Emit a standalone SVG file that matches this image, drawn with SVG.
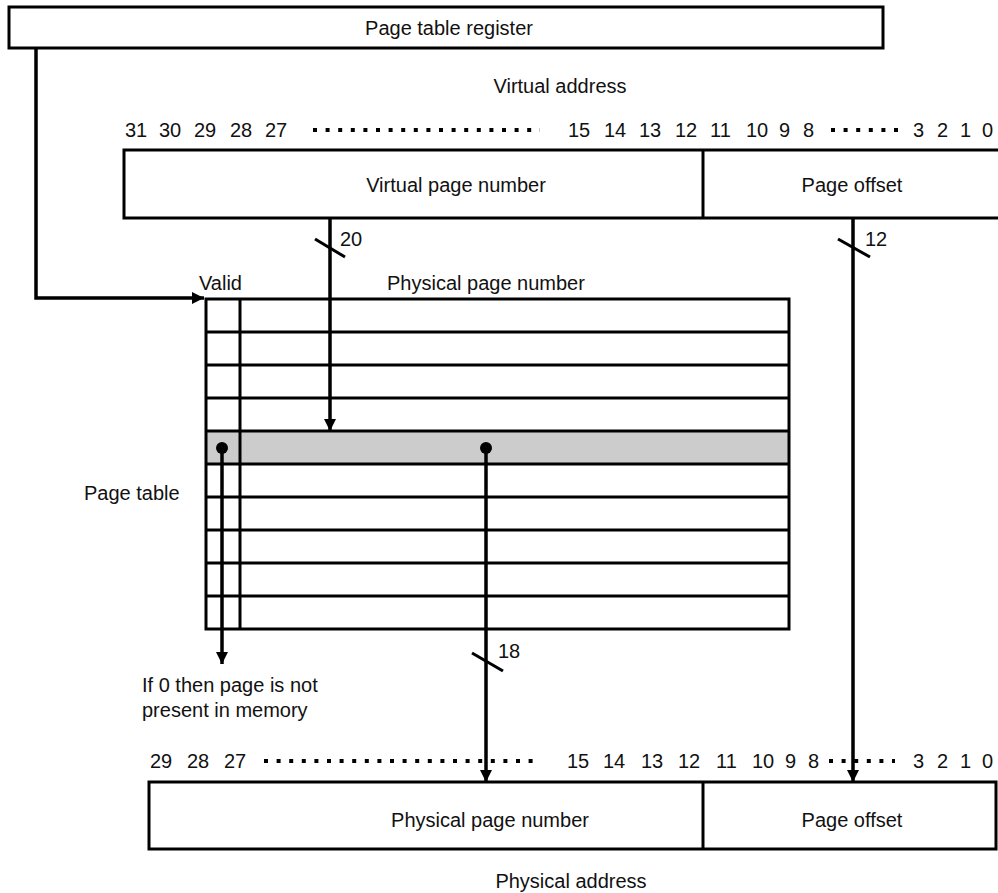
<svg xmlns="http://www.w3.org/2000/svg" width="998" height="893" viewBox="0 0 998 893">
<defs>
<marker id="ah" viewBox="0 0 12 12" refX="12" refY="6" markerWidth="12" markerHeight="12" markerUnits="userSpaceOnUse" orient="auto">
<path d="M0,0 L12,6 L0,12 Z" fill="#000"/>
</marker>
</defs>
<style>
text{font-family:"Liberation Sans",Arial,sans-serif;font-size:20px;fill:#111}
.box{fill:#fff;stroke:#000;stroke-width:3}
.ln{stroke:#000;stroke-width:3;fill:none}
.wire{stroke:#000;stroke-width:3.5;fill:none}
.dots{stroke:#000;stroke-width:4;stroke-dasharray:4 8.6;fill:none}
.c{text-anchor:middle}
</style>
<rect width="998" height="893" fill="#fff"/>

<g id="ptr">
<rect class="box" x="9" y="7" width="874" height="41"/>
<text class="c" x="449" y="35">Page table register</text>
</g>

<g id="vaddr">
<text class="c" x="560" y="93">Virtual address</text>
<text x="125" y="137">31</text><text x="159" y="137">30</text><text x="194" y="137">29</text><text x="230" y="137">28</text><text x="265" y="137">27</text>
<line class="dots" x1="313" y1="130" x2="540" y2="130"/>
<text x="568" y="137">15</text><text x="604" y="137">14</text><text x="639" y="137">13</text><text x="675" y="137">12</text><text x="710" y="137">11</text><text x="746" y="137">10</text><text x="779" y="137">9</text><text x="803" y="137">8</text>
<line class="dots" x1="831" y1="130" x2="902" y2="130"/>
<text x="913" y="137">3</text><text x="937" y="137">2</text><text x="960" y="137">1</text><text x="982" y="137">0</text>
<rect class="box" x="124" y="150" width="880" height="68"/>
<line class="ln" x1="703" y1="150" x2="703" y2="218"/>
<text class="c" x="456" y="192">Virtual page number</text>
<text class="c" x="852" y="192">Page offset</text>
</g>

<g id="pagetable">
<text x="84" y="500">Page table</text>
<text x="199" y="290">Valid</text>
<text x="387" y="290">Physical page number</text>
<rect x="206" y="431" width="583" height="33" fill="#cccccc"/>
<rect x="206" y="299" width="583" height="330" fill="none" stroke="#000" stroke-width="3"/>
<g class="ln">
<line x1="206" y1="332" x2="789" y2="332"/>
<line x1="206" y1="365" x2="789" y2="365"/>
<line x1="206" y1="398" x2="789" y2="398"/>
<line x1="206" y1="431" x2="789" y2="431"/>
<line x1="206" y1="464" x2="789" y2="464"/>
<line x1="206" y1="497" x2="789" y2="497"/>
<line x1="206" y1="530" x2="789" y2="530"/>
<line x1="206" y1="563" x2="789" y2="563"/>
<line x1="206" y1="596" x2="789" y2="596"/>
<line x1="240" y1="299" x2="240" y2="629"/>
</g>
<text x="142" y="692">If 0 then page is not</text>
<text x="142" y="717">present in memory</text>
</g>

<g id="paddr">
<text x="150" y="768">29</text><text x="187" y="768">28</text><text x="224" y="768">27</text>
<line class="dots" x1="264" y1="761" x2="537" y2="761"/>
<text x="567" y="768">15</text><text x="603" y="768">14</text><text x="641" y="768">13</text><text x="678" y="768">12</text><text x="716" y="768">11</text><text x="752" y="768">10</text><text x="785" y="768">9</text><text x="808" y="768">8</text>
<line class="dots" x1="829" y1="761" x2="895" y2="761"/>
<text x="913" y="768">3</text><text x="937" y="768">2</text><text x="960" y="768">1</text><text x="982" y="768">0</text>
<rect class="box" x="149" y="782" width="847" height="67"/>
<line class="ln" x1="703" y1="782" x2="703" y2="849"/>
<text class="c" x="490" y="827">Physical page number</text>
<text class="c" x="852" y="827">Page offset</text>
<text class="c" x="571" y="888">Physical address</text>
</g>

<g id="connectors">
<polyline class="wire" points="36,48 36,298 204,298" marker-end="url(#ah)"/>
<line class="wire" x1="330" y1="218" x2="330" y2="431" marker-end="url(#ah)"/>
<line class="ln" x1="315" y1="239" x2="345" y2="257"/>
<text x="340" y="246">20</text>
<line class="wire" x1="853" y1="218" x2="853" y2="782" marker-end="url(#ah)"/>
<line class="ln" x1="838" y1="239" x2="870" y2="257"/>
<text x="865" y="246">12</text>
<circle cx="222" cy="448" r="6" fill="#000"/>
<line class="wire" x1="222" y1="448" x2="222" y2="664" marker-end="url(#ah)"/>
<circle cx="486" cy="448" r="6" fill="#000"/>
<line class="wire" x1="486" y1="448" x2="486" y2="782" marker-end="url(#ah)"/>
<line class="ln" x1="472" y1="653" x2="503" y2="671"/>
<text x="498" y="658">18</text>
</g>
</svg>
